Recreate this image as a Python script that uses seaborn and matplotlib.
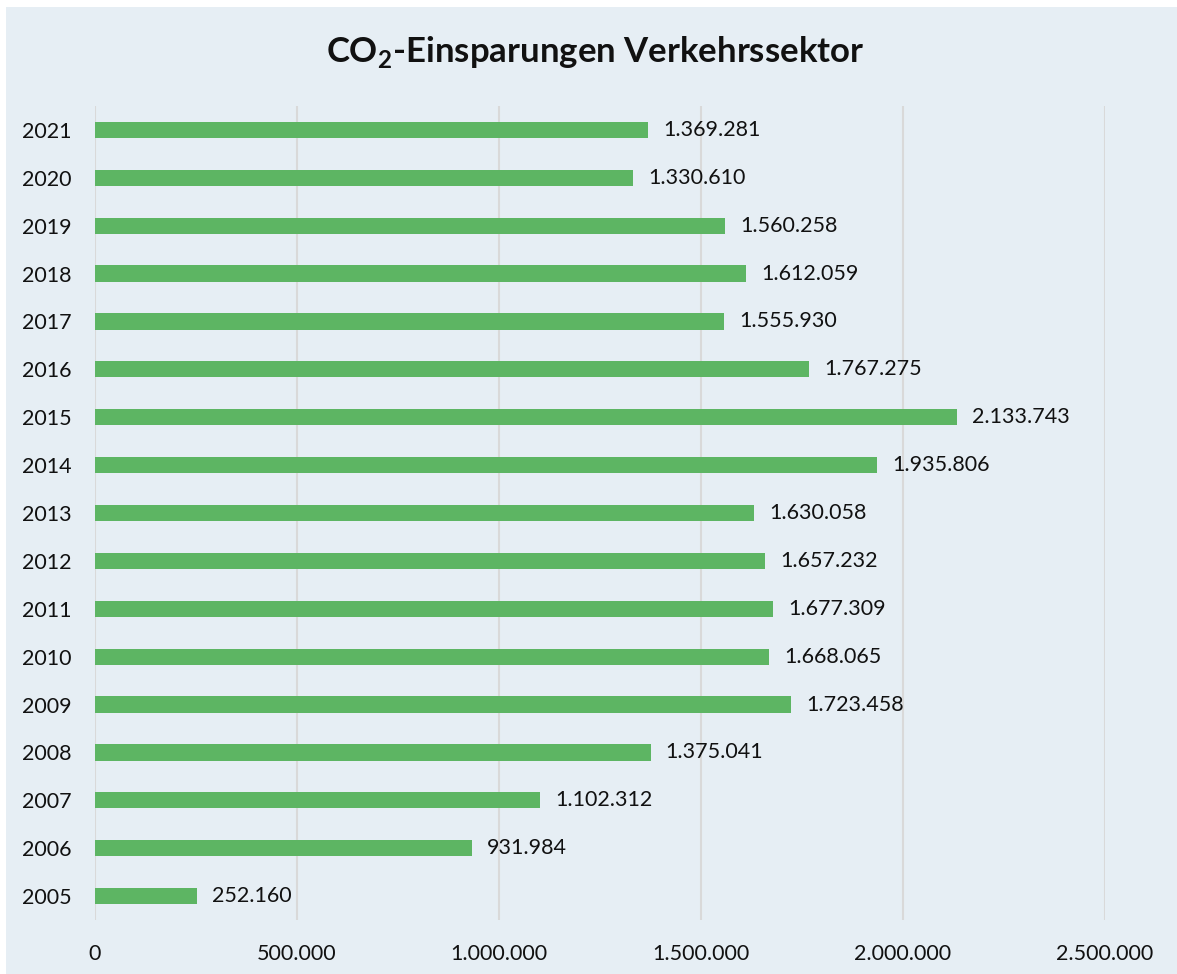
import matplotlib
matplotlib.use("Agg")
import matplotlib.pyplot as plt
import seaborn as sns
import pandas as pd
from matplotlib.patches import Rectangle

# data (t CO2)
years = ["2021", "2020", "2019", "2018", "2017", "2016", "2015", "2014", "2013",
         "2012", "2011", "2010", "2009", "2008", "2007", "2006", "2005"]
savings = [1369281, 1330610, 1560258, 1612059, 1555930, 1767275, 2133743, 1935806, 1630058,
           1657232, 1677309, 1668065, 1723458, 1375041, 1102312, 931984, 252160]
x_ticks = [0, 500000, 1000000, 1500000, 2000000, 2500000]

bg = "#E6EEF4"
bar_color = "#5DB563"
grid_color = "#D9D9D9"


def de_fmt(v):
    # german thousands separator
    return f"{int(v):,}".replace(",", ".")


sns.set_theme(style="white")
plt.rcParams["font.family"] = ["Lato", "DejaVu Sans"]
plt.rcParams["mathtext.fontset"] = "custom"
plt.rcParams["mathtext.rm"] = "Lato"
plt.rcParams["mathtext.bf"] = "Lato:bold"

df = pd.DataFrame({"Jahr": years, "Einsparung": savings})

fig = plt.figure(figsize=(11.77, 9.74), dpi=100, facecolor="white")
# panel behind the chart (small white margin top/left like the original)
fig.patches.append(Rectangle((6 / 1177, 0), 1, 1 - 7 / 974, transform=fig.transFigure,
                             facecolor=bg, edgecolor="none", zorder=-1))
ax = fig.add_axes([95 / 1177, 1 - 920 / 974, (1105 - 95) / 1177, (920 - 106) / 974])
ax.set_facecolor(bg)

sns.barplot(data=df, x="Einsparung", y="Jahr", order=years, color=bar_color,
            width=0.34, saturation=1, linewidth=0, ax=ax, zorder=3)

ax.bar_label(ax.containers[0], labels=[de_fmt(v) for v in savings],
             padding=11, fontsize=15.5, color="#111111")

ax.set_xlim(0, 2500000)
ax.set_ylim(len(years) - 0.5, -0.5)
ax.set_xticks(x_ticks)
ax.set_xticklabels([de_fmt(t) for t in x_ticks])
ax.set_xlabel("")
ax.set_ylabel("")
ax.tick_params(axis="x", length=0, pad=17, labelsize=15.5, labelcolor="#111111")
ax.tick_params(axis="y", length=0, pad=17, labelsize=15.5, labelcolor="#111111")
ax.grid(axis="x", color=grid_color, linewidth=1.5, zorder=0)
ax.grid(axis="y", visible=False)
for s in ax.spines.values():
    s.set_visible(False)

fig.text(595 / 1177, 1 - 52 / 974, r"CO$_{\mathbf{2}}$-Einsparungen Verkehrssektor",
         ha="center", va="center", fontsize=25, fontweight="bold", color="#111111")

fig.savefig("out.png", dpi=100, facecolor=fig.get_facecolor())
